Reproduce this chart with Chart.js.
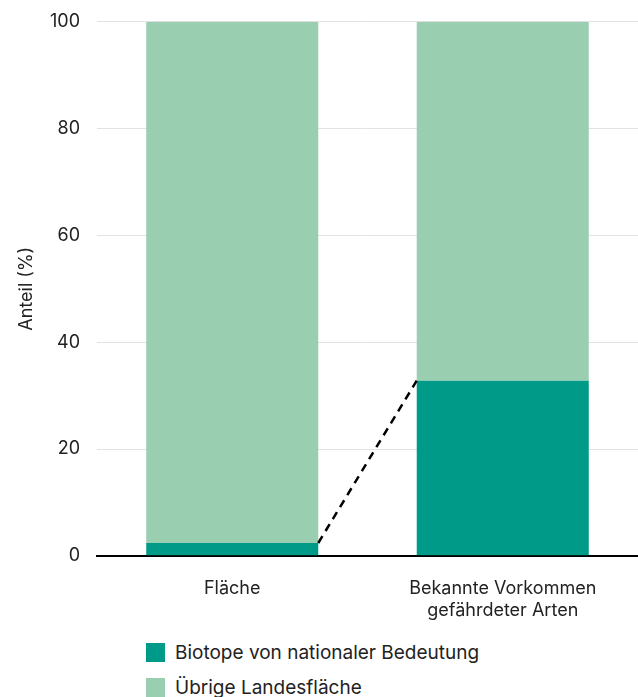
<!DOCTYPE html>
<html>
<head>
<meta charset="utf-8">
<script src="https://cdn.jsdelivr.net/npm/chart.js@4/dist/chart.umd.min.js"></script>
<style>
  body { margin: 0; background: #fff; font-family: Inter, sans-serif; }
  #wrap { width: 638px; height: 641px; position: relative; margin-top: -6px; }
  #legend { position: absolute; top: 635px; left: 146px; font-size: 19px; color: #222; }
  .item { display: flex; align-items: center; height: 35px; }
  .box { width: 19px; height: 19px; margin-right: 10px; }
</style>
</head>
<body>
<div id="wrap"><canvas id="chart"></canvas></div>
<div id="legend"></div>
<script>
const categories = ['Fläche', ['Bekannte Vorkommen', 'gefährdeter Arten']];
const biotope = [2.4, 32.8];
const uebrige = [97.6, 67.2];
const seriesNames = ['Biotope von nationaler Bedeutung', 'Übrige Landesfläche'];
const seriesColors = ['#009a88', '#99cfb0'];
const yTicks = [0, 20, 40, 60, 80, 100];

// dashed connector between the tops of the dark segments
const connector = {
    id: 'connector',
    afterDatasetsDraw(chart) {
        const bars = chart.getDatasetMeta(0).data;
        if (bars.length < 2) return;
        const a = bars[0], b = bars[1];
        const ctx = chart.ctx;
        ctx.save();
        ctx.setLineDash([8, 6]);
        ctx.lineWidth = 2.5;
        ctx.strokeStyle = '#000';
        ctx.beginPath();
        ctx.moveTo(a.x + a.width / 2, a.y);
        ctx.lineTo(b.x - b.width / 2, b.y);
        ctx.stroke();
        ctx.restore();
    }
};

const font = { family: 'Inter', size: 18 };

const ctx = document.getElementById('chart').getContext('2d');
new Chart(ctx, {
    type: 'bar',
    data: {
        labels: categories,
        datasets: [
            { label: seriesNames[0], data: biotope, backgroundColor: seriesColors[0] },
            { label: seriesNames[1], data: uebrige, backgroundColor: seriesColors[1] }
        ]
    },
    options: {
        responsive: true,
        maintainAspectRatio: false,
        animation: false,
        layout: { padding: { top: 0, right: 0, left: 0 } },
        datasets: { bar: { categoryPercentage: 1, barPercentage: 0.636 } },
        scales: {
            x: {
                stacked: true,
                grid: { display: false },
                border: { display: true, color: '#000', width: 2 },
                ticks: { color: '#222', font: font, padding: 14 }
            },
            y: {
                stacked: true,
                min: 0,
                max: 100,
                afterBuildTicks: axis => { axis.ticks = yTicks.map(v => ({ value: v })); },
                afterFit: axis => { axis.width = 97; },
                grid: { color: '#e2e2e2', drawTicks: false },
                border: { display: false },
                ticks: { color: '#222', font: font, padding: 17 },
                title: { display: true, text: 'Anteil (%)', color: '#222', font: font, padding: { top: 16, bottom: 0 } }
            }
        },
        plugins: {
            legend: { display: false },
            tooltip: { enabled: false }
        }
    },
    plugins: [connector]
});

const legendEl = document.getElementById('legend');
seriesNames.forEach((name, i) => {
    const item = document.createElement('div');
    item.className = 'item';
    item.innerHTML = '<span class="box" style="background:' + seriesColors[i] + '"></span>' + name;
    legendEl.appendChild(item);
});
</script>
</body>
</html>
